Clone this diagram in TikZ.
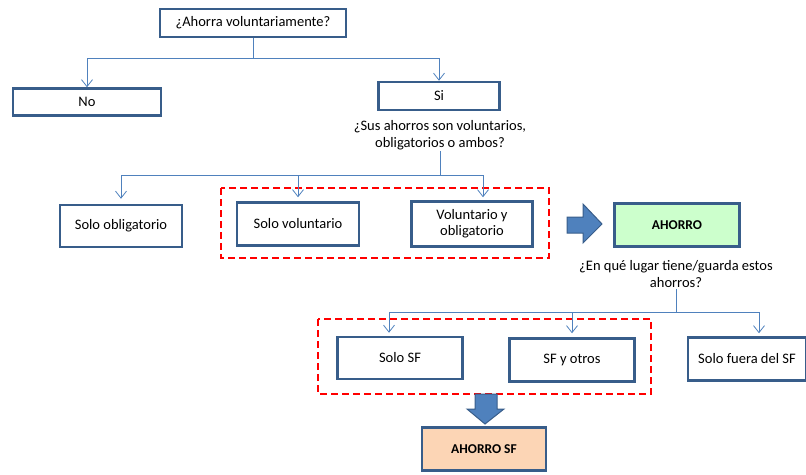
\documentclass[tikz,border=0pt]{standalone}
\usepackage{fontspec}
\setmainfont{Carlito}
\usetikzlibrary{arrows.meta}
\definecolor{boxblue}{RGB}{56,93,138}
\definecolor{linkblue}{RGB}{79,129,189}
\definecolor{savegreen}{RGB}{204,255,204}
\definecolor{savepeach}{RGB}{252,213,181}
\tikzset{
  box/.style={draw=boxblue, line width=2.5pt, fill=white, align=center,
    font=\fontsize{14.5}{16}\selectfont, inner sep=2pt},
  label/.style={align=center, font=\fontsize{14.5}{17}\selectfont, inner sep=1pt},
  link/.style={draw=linkblue, line width=0.8pt},
  linkto/.style={link, -{Straight Barb[length=7pt,width=11pt]}},
  group/.style={draw=red, line width=2.6pt, dash pattern=on 7pt off 4pt},
  bigarrow/.style={fill=linkblue, draw=boxblue, line width=1pt},
}
\begin{document}
\begin{tikzpicture}[x=1pt,y=-1pt]
  \useasboundingbox (0,0) rectangle (806,474);

  %% first question
  \node[box, minimum width=186pt, minimum height=28pt] (ahorra) at (253,23) {¿Ahorra voluntariamente?};
  \node[box, minimum width=148pt, minimum height=27pt] (no) at (87,102) {No};
  \node[box, minimum width=121pt, minimum height=28pt] (si) at (439,96) {Si};
  \node[label] (sus) at (440,135) {¿Sus ahorros son voluntarios,\\obligatorios o ambos?};

  \coordinate (j1) at (253,58);
  \draw[link] (ahorra.south) -- (j1);
  \draw[linkto] (j1) -| (no.north);
  \draw[linkto] (j1) -| (si.north);

  %% second question
  \node[box, minimum width=122pt, minimum height=42pt] (obl) at (121,226) {Solo obligatorio};
  \node[box, minimum width=122pt, minimum height=43pt] (vol) at (298,224) {Solo voluntario};
  \node[box, minimum width=121pt, minimum height=45pt] (volobl) at (472,224) {Voluntario y\\obligatorio};
  \draw[group] (221,188) rectangle (549,258);

  \coordinate (j2) at (440,175);
  \draw[link] (sus.south) -- (j2);
  \draw[linkto, shorten >=5pt] (j2) -| (obl.north);
  \draw[linkto, shorten >=4pt] (j2) -| (vol.north);
  \draw[linkto, shorten >=3pt] (j2) -| ([xshift=11pt]volobl.north);

  \draw[bigarrow] (567,217) -- (583,217) -- (583,204) -- (602,224)
    -- (583,243) -- (583,233) -- (567,233) -- cycle;

  %% where the savings are kept
  \node[box, fill=savegreen, minimum width=125pt, minimum height=43pt,
    font=\fontsize{13.5}{15}\selectfont\bfseries] (ahorro) at (677,225) {AHORRO};
  \node[label] (lugar) at (676,274) {¿En qué lugar tiene/guarda estos\\ahorros?};

  \node[box, minimum width=125pt, minimum height=42pt] (solosf) at (400,358) {Solo SF};
  \node[box, minimum width=125pt, minimum height=43pt] (sfotros) at (572,360) {SF y otros};
  \node[box, minimum width=118pt, minimum height=43pt] (fuera) at (747,359) {Solo fuera del SF};
  \draw[group] (318,319) rectangle (651,394);

  \coordinate (j3) at (676,312);
  \draw[link] (lugar.south) -- (j3);
  \draw[linkto, shorten >=3pt] (j3) -| ([xshift=-11pt]solosf.north);
  \draw[linkto, shorten >=4pt] (j3) -| (sfotros.north);
  \draw[linkto, shorten >=3pt] (j3) -| ([xshift=12pt]fuera.north);

  \draw[bigarrow] (475,394) -- (497,394) -- (497,409) -- (504,409)
    -- (485,424) -- (467,409) -- (475,409) -- cycle;

  \node[box, fill=savepeach, minimum width=124pt, minimum height=43pt,
    font=\fontsize{13.5}{15}\selectfont\bfseries] (ahorrosf) at (484,449) {AHORRO SF};
\end{tikzpicture}
\end{document}
